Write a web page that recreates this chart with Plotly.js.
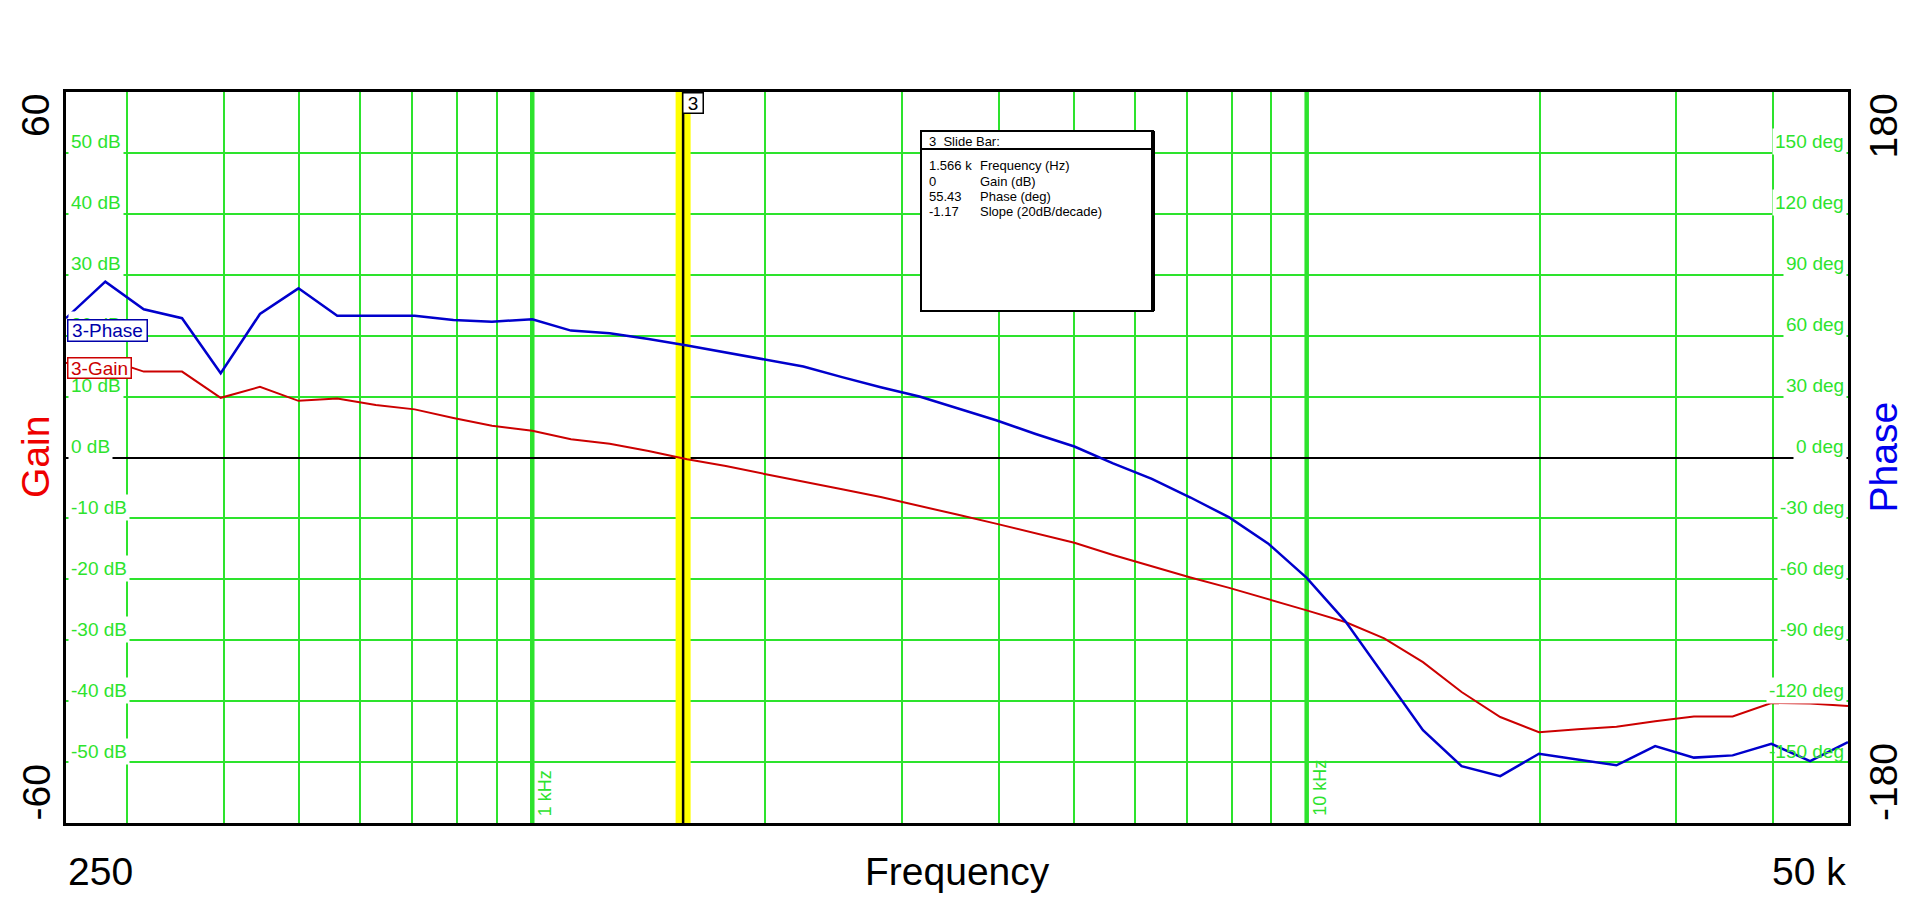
<!DOCTYPE html>
<html>
<head>
<meta charset="utf-8">
<script src="https://cdn.plot.ly/plotly-3.0.1.min.js"></script>
<style>
  html, body { margin: 0; padding: 0; background: white; overflow: hidden; }
  #chart { width: 1916px; height: 916px; }
</style>
</head>
<body>
<div id="chart"></div>
<script>
/* ── Loop 3 Bode data (20 pts / decade) ── */
const FREQ_HZ = [250, 281, 315, 353, 396, 445, 499, 560, 628, 705, 791, 887,
  1000, 1122, 1259, 1413, 1585, 1778, 1995, 2239, 2512, 2818, 3162, 3548, 3981, 4467,
  5012, 5623, 6310, 7079, 7943, 8913,
  10000, 11220, 12590, 14130, 15850, 17780, 19950, 22390, 25120, 28180, 31620, 35480,
  39810, 44670, 50000];

const GAIN_DB = [15.5, 16.2, 14.1, 14.1, 9.8, 11.6, 9.3, 9.7, 8.6, 7.9, 6.5, 5.2,
  4.4, 3.0, 2.25, 1.05, -0.3, -1.4, -2.7, -3.9, -5.2, -6.5, -7.9, -9.4, -10.9, -12.5,
  -14.0, -16.0, -17.9, -19.7, -21.4, -23.2,
  -25.1, -27.0, -29.7, -33.6, -38.5, -42.6, -45.1, -44.6, -44.2, -43.3, -42.5, -42.5,
  -40.3, -40.4, -40.8];

const PHASE_DEG = [68.6, 86.6, 73, 68.6, 41.5, 70.7, 83.3, 69.8, 69.8, 69.8, 67.7, 66.9,
  68.1, 62.5, 61.2, 58.4, 55.2, 51.7, 48, 44.8, 39.6, 34.6, 30, 24.1, 18.2, 11.6,
  5.4, -2.9, -10.5, -19.7, -29.5, -42.3,
  -59.3, -80.7, -107.3, -134.3, -152, -156.9, -145.9, -148.8, -151.6, -142.1, -147.8, -146.7,
  -141, -149.5, -140.2];

const GRID_FREQS = [300, 400, 500, 600, 700, 800, 900, 1000, 2000, 3000, 4000, 5000,
  6000, 7000, 8000, 9000, 10000, 20000, 30000, 40000];
const DECADE_FREQS  = [1000, 10000];
const DECADE_LABELS = ['1 kHz', '10 kHz'];

const GAIN_TICKS  = [50, 40, 30, 20, 10, 0, -10, -20, -30, -40, -50];
const PHASE_TICKS = [150, 120, 90, 60, 30, 0, -30, -60, -90, -120, -150];

const SLIDE_FREQ  = 1566;
const SLIDE_TITLE = '3\u00a0\u00a0Slide Bar:';
const SLIDE_VALUES = ['1.566 k', '0', '55.43', '-1.17'];
const SLIDE_NAMES  = ['Frequency (Hz)', 'Gain (dB)', 'Phase (deg)', 'Slope (20dB/decade)'];

/* ── Look ── */
const FONT   = "'Liberation Sans', Arial, sans-serif";
const GREEN  = '#2de32d';
const RED    = '#cc0000';
const BLUE   = '#0000cc';
const BIG    = 39;

/* plot-area pixels -> paper fractions (only for the info box) */
const PL = 66, PR = 1848, PT = 92, PB = 823;
const px2x = p => (p - PL) / (PR - PL);
const px2y = p => (PB - p) / (PB - PT);

const traces = [
  { x: [SLIDE_FREQ, SLIDE_FREQ], y: [-60, 60], mode: 'lines', yaxis: 'y',
    line: { color: '#ffff00', width: 15 }, hoverinfo: 'skip', showlegend: false },
  { x: [SLIDE_FREQ, SLIDE_FREQ], y: [-60, 60], mode: 'lines', yaxis: 'y',
    line: { color: 'black', width: 2.5 }, hoverinfo: 'skip', showlegend: false },
  { x: FREQ_HZ, y: GAIN_DB, mode: 'lines', name: '3-Gain', yaxis: 'y',
    line: { color: RED, width: 2 }, showlegend: false },
  { x: FREQ_HZ, y: PHASE_DEG, mode: 'lines', name: '3-Phase', yaxis: 'y2',
    line: { color: BLUE, width: 2.5 }, showlegend: false },
];

const txt = (o) => Object.assign({ showarrow: false }, o);

const annotations = [];

/* inner tick labels */
GAIN_TICKS.forEach(v => annotations.push(txt({
  xref: 'paper', x: 0, xanchor: 'left', xshift: 2,
  yref: 'y', y: v, yanchor: 'bottom', yshift: -2.5,
  text: `${v} dB`, font: { family: FONT, size: 19, color: GREEN },
  bgcolor: 'white', borderpad: 2,
})));
PHASE_TICKS.forEach(v => annotations.push(txt({
  xref: 'paper', x: 1, xanchor: 'right', xshift: -1,
  yref: 'y2', y: v, yanchor: 'bottom', yshift: -2.5,
  text: `${v} deg`, font: { family: FONT, size: 19, color: GREEN },
  bgcolor: v === -150 ? 'rgba(0,0,0,0)' : 'white', borderpad: 2,
})));
DECADE_FREQS.forEach((f, i) => annotations.push(txt({
  xref: 'x', x: Math.log10(f), xanchor: 'left', xshift: 1,
  yref: 'paper', y: 0, yanchor: 'bottom', yshift: 5,
  textangle: -90, text: DECADE_LABELS[i],
  font: { family: FONT, size: 18, color: GREEN },
})));

/* big axis captions */
const side = (x, xshift, y, yanchor, text, color) => txt({
  xref: 'paper', x, xshift, xanchor: 'center',
  yref: 'paper', y, yanchor, textangle: -90, text,
  font: { family: FONT, size: BIG, color },
});
annotations.push(
  side(0, -30.5, 1, 'top', '60', 'black'),
  side(0, -30.5, 0.5, 'middle', 'Gain', '#ee0000'),
  side(0, -30.5, 0, 'bottom', '-60', 'black'),
  side(1, 35, 1, 'top', '180', 'black'),
  side(1, 35, 0.5, 'middle', 'Phase', '#0000ee'),
  side(1, 35, 0, 'bottom', '-180', 'black'),
);
[[0, 'left', '250'], [0.5, 'center', 'Frequency'], [1, 'right', '50 k']].forEach(([x, xa, t]) =>
  annotations.push(txt({
    xref: 'paper', x, xanchor: xa, yref: 'paper', y: 0, yanchor: 'top', yshift: -24.6,
    text: t, font: { family: FONT, size: BIG, color: 'black' },
  })));

/* trace tags */
annotations.push(
  txt({ xref: 'paper', x: 0, xanchor: 'left', xshift: 1, yref: 'paper', y: px2y(330), yanchor: 'middle',
        text: '3-Phase', font: { family: FONT, size: 19, color: '#0000aa' },
        bgcolor: 'white', bordercolor: '#0000aa', borderwidth: 1.5, borderpad: 0.5, width: 77, height: 19 }),
  txt({ xref: 'paper', x: 0, xanchor: 'left', xshift: 1, yref: 'paper', y: px2y(367.5), yanchor: 'middle',
        text: '3-Gain', font: { family: FONT, size: 19, color: RED },
        bgcolor: 'white', bordercolor: RED, borderwidth: 1.5, borderpad: 0.5, width: 61, height: 18 }),
);

/* slide bar marker + readout */
annotations.push(txt({
  xref: 'x', x: Math.log10(SLIDE_FREQ), xanchor: 'left', xshift: -1,
  yref: 'paper', y: 1, yanchor: 'top',
  text: '3', font: { family: FONT, size: 19, color: 'black' },
  bgcolor: 'white', bordercolor: 'black', borderwidth: 1.5, borderpad: 1, width: 17, height: 17,
}));
annotations.push(txt({
  xref: 'paper', x: px2x(927), xanchor: 'left', yref: 'paper', y: px2y(141), yanchor: 'middle',
  text: SLIDE_TITLE, font: { family: FONT, size: 13, color: 'black' },
}));
SLIDE_VALUES.forEach((v, i) => {
  const y = px2y(166 + i * 15.2);
  annotations.push(
    txt({ xref: 'paper', x: px2x(927), xanchor: 'left', yref: 'paper', y, yanchor: 'middle',
          text: v, font: { family: FONT, size: 13, color: 'black' } }),
    txt({ xref: 'paper', x: px2x(978), xanchor: 'left', yref: 'paper', y, yanchor: 'middle',
          text: SLIDE_NAMES[i], font: { family: FONT, size: 13, color: 'black' } }),
  );
});

const shapes = [
  /* decade lines drawn heavier */
  ...DECADE_FREQS.map(f => ({
    type: 'line', xref: 'x', x0: f, x1: f, yref: 'paper', y0: 0, y1: 1,
    line: { color: GREEN, width: 4.5 }, layer: 'below',
  })),
  /* readout window */
  { type: 'rect', xref: 'paper', yref: 'paper', x0: px2x(921), x1: px2x(1153), y0: px2y(311), y1: px2y(131),
    fillcolor: 'white', line: { color: 'black', width: 2 }, layer: 'above' },
  { type: 'line', xref: 'paper', yref: 'paper', x0: px2x(921), x1: px2x(1153), y0: px2y(149), y1: px2y(149),
    line: { color: 'black', width: 2 }, layer: 'above' },
  { type: 'line', xref: 'paper', yref: 'paper', x0: px2x(1153), x1: px2x(1153), y0: px2y(311), y1: px2y(131),
    line: { color: 'black', width: 4 }, layer: 'above' },
];

const layout = {
  width: 1916, height: 916,
  paper_bgcolor: 'white', plot_bgcolor: 'white',
  margin: { l: PL, r: 1916 - PR, t: PT, b: 916 - PB, pad: 0 },
  font: { family: FONT },
  showlegend: false,
  hovermode: false,
  xaxis: {
    type: 'log', range: [Math.log10(250), Math.log10(50000)],
    tickvals: GRID_FREQS, showticklabels: false, ticks: '',
    showgrid: true, gridcolor: GREEN, gridwidth: 2, zeroline: false,
    showline: true, mirror: true, linecolor: 'black', linewidth: 3, fixedrange: true,
  },
  yaxis: {
    range: [-60, 60], tickvals: GAIN_TICKS, showticklabels: false, ticks: '',
    showgrid: true, gridcolor: GREEN, gridwidth: 2,
    zeroline: true, zerolinecolor: 'black', zerolinewidth: 2,
    showline: true, mirror: true, linecolor: 'black', linewidth: 3, fixedrange: true,
  },
  yaxis2: {
    overlaying: 'y', side: 'right', range: [-180, 180],
    showgrid: false, zeroline: false, showticklabels: false, ticks: '', fixedrange: true,
  },
  annotations,
  shapes,
};

Plotly.newPlot('chart', traces, layout, { displayModeBar: false, staticPlot: true });
</script>
</body>
</html>
